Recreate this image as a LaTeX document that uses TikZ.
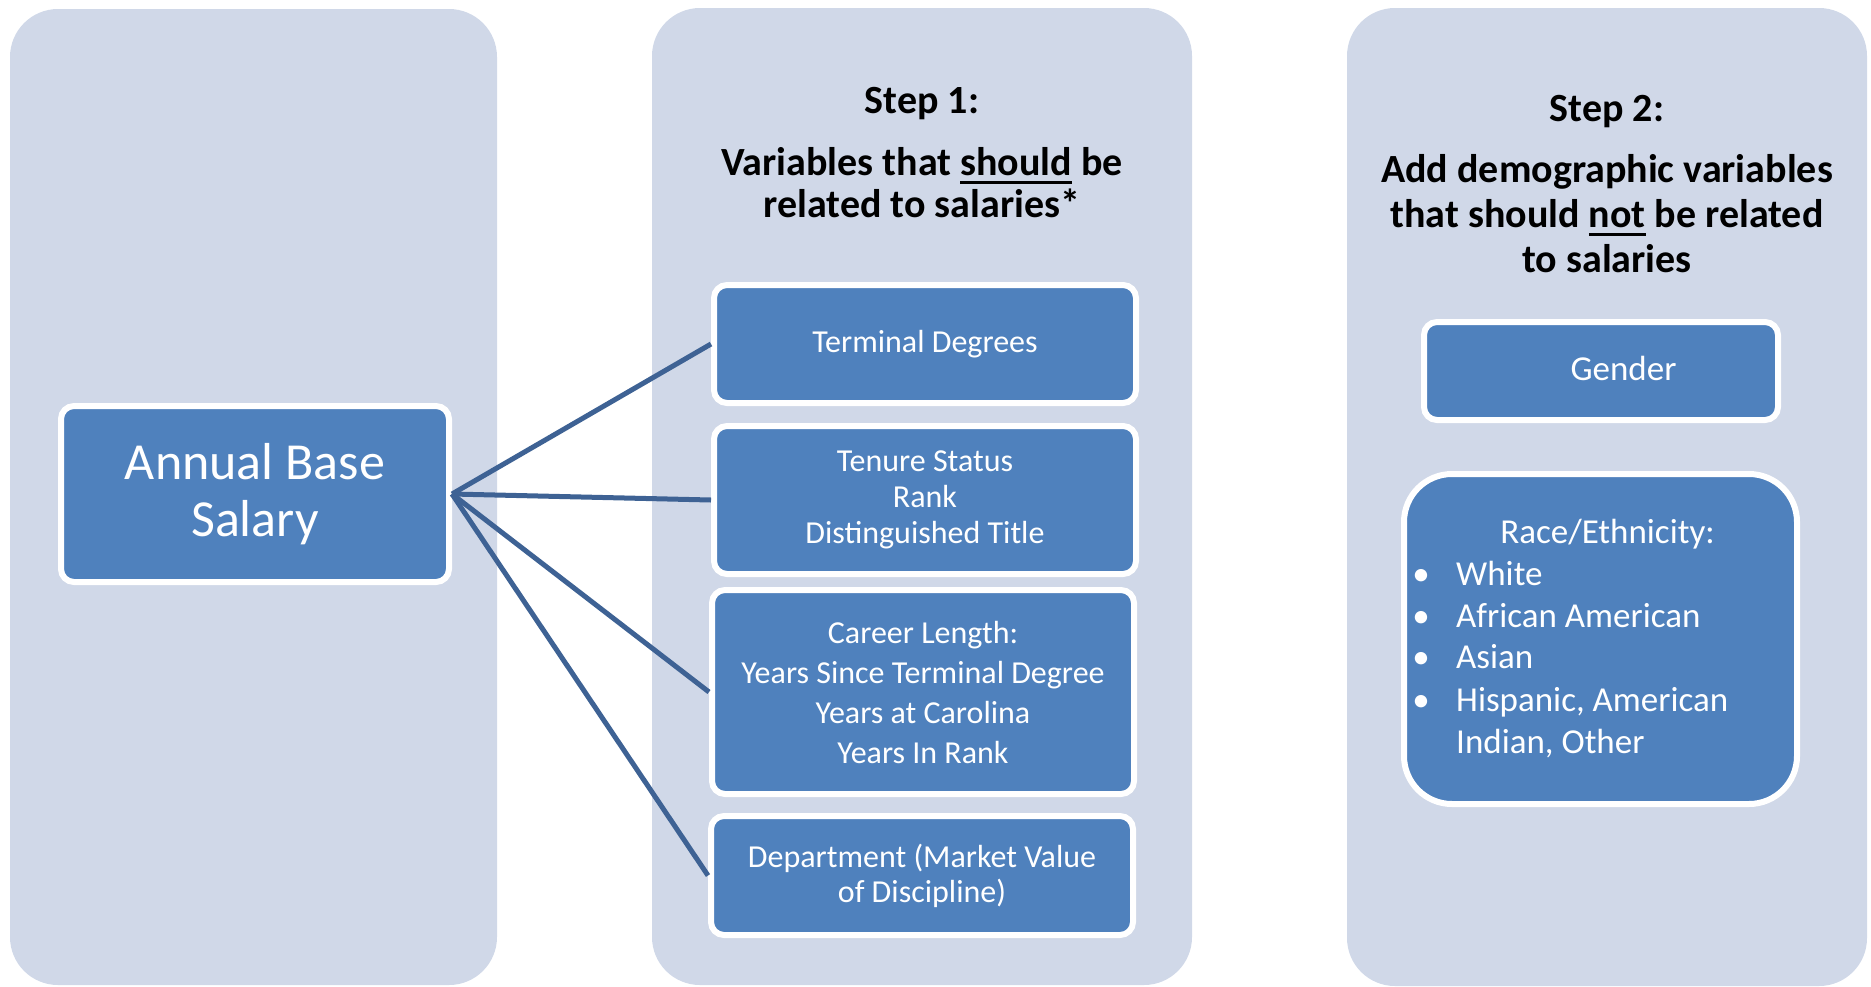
\documentclass[tikz,border=0pt]{standalone}
\usepackage{fontspec}
\setmainfont{Carlito}
\definecolor{panel}{RGB}{208,216,232}
\definecolor{boxblue}{RGB}{79,129,189}
\definecolor{linkblue}{RGB}{62,98,148}
\newcommand\myul[1]{\setbox0\hbox{#1}\rlap{\rule[-8.5pt]{\wd0}{3pt}}\box0\relax}
\begin{document}
\begin{tikzpicture}[x=1pt,y=-1pt,
  panelbox/.style={fill=panel, draw=none, rounded corners=48pt, inner sep=0pt},
  varbox/.style={fill=boxblue, draw=white, line width=6pt, rounded corners=13pt,
    text=white, align=center, inner sep=0pt},
  link/.style={draw=linkblue, line width=5pt},
  ttl/.style={font=\bfseries\fontsize{40}{42}\selectfont, anchor=base, inner sep=0pt},
  wtxt/.style={text=white, font=\fontsize{35}{42}\selectfont, inner sep=0pt},
]
\path[use as bounding box] (0,0) rectangle (1871,986);
% panels
\node[panelbox, minimum width=487pt, minimum height=976pt] (p1) at (253.5,497) {};
\node[panelbox, minimum width=540pt, minimum height=977pt] (p2) at (922,496.5) {};
\node[panelbox, minimum width=520pt, minimum height=978pt] (p3) at (1607,497) {};
% titles
\node[ttl] (s1a) at (922,113) {Step 1:};
\node[ttl] (s1b) at (922,175) {Variables that \myul{should} be};
\node[ttl] (s1c) at (922,217) {related to salaries*};
\node[ttl] (s2a) at (1607,121) {Step 2:};
\node[ttl] (s2b) at (1607,182) {Add demographic variables};
\node[ttl] (s2c) at (1607,227) {that should \myul{not} be related};
\node[ttl] (s2d) at (1607,272) {to salaries};
% boxes
\node[varbox, minimum width=388pt, minimum height=176pt, font=\fontsize{52}{57}\selectfont]
  (annual) at (255,494) {Annual Base\\Salary};
\node[varbox, minimum width=422pt, minimum height=118pt, font=\fontsize{32}{36}\selectfont]
  (terminal) at (925,344) {Terminal Degrees};
\node[varbox, minimum width=422pt, minimum height=148pt, font=\fontsize{32}{36}\selectfont]
  (tenure) at (925,500) {Tenure Status\\Rank\\Distinguished Title};
\node[varbox, minimum width=422pt, minimum height=204pt, font=\fontsize{32}{40}\selectfont]
  (career) at (923,692) {Career Length:\\Years Since Terminal Degree\\Years at Carolina\\Years In Rank};
\node[varbox, minimum width=422pt, minimum height=119pt, font=\fontsize{32}{35}\selectfont]
  (dept) at (922,875.5) {Department (Market Value\\of Discipline)};
\node[varbox, minimum width=354pt, minimum height=98pt] (genderbox) at (1601,371) {};
\node[wtxt, anchor=base] (gender) at (1623.5,380) {Gender};
\node[varbox, minimum width=393pt, minimum height=330pt, rounded corners=48pt] (racebox) at (1600.5,639) {};
\node[wtxt, anchor=base] (race) at (1607.5,543) {Race/Ethnicity:};
\node[wtxt, anchor=base] (b1) at (1421,585) {•};
\node[wtxt, anchor=base] (b2) at (1421,627) {•};
\node[wtxt, anchor=base] (b3) at (1421,668) {•};
\node[wtxt, anchor=base] (b4) at (1421,711) {•};
\node[wtxt, anchor=base west] (r1) at (1456,585) {White};
\node[wtxt, anchor=base west] (r2) at (1456,627) {African American};
\node[wtxt, anchor=base west] (r3) at (1456,668) {Asian};
\node[wtxt, anchor=base west] (r4) at (1456,711) {Hispanic, American};
\node[wtxt, anchor=base west] (r5) at (1456,753) {Indian, Other};
% connectors
\draw[link] (annual.east) -- (terminal.west);
\draw[link] (annual.east) -- (tenure.west);
\draw[link] (annual.east) -- (career.west);
\draw[link] (annual.east) -- (dept.west);
\end{tikzpicture}
\end{document}
